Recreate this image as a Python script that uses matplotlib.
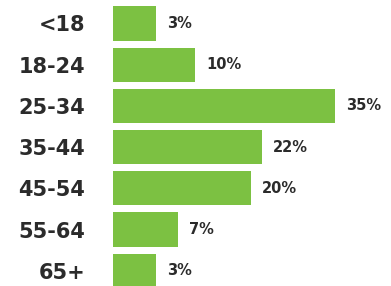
import matplotlib
import matplotlib.pyplot as plt

matplotlib.use("Agg")

# data
age_groups = ["<18", "18-24", "25-34", "35-44", "45-54", "55-64", "65+"]
shares = [3, 10, 35, 22, 20, 7, 3]
share_labels = ["3%", "10%", "35%", "22%", "20%", "7%", "3%"]

BAR_COLOR = "#7cc142"
TEXT_COLOR = "#2b2b2b"
BASE = -4.6  # bars start a bit left of zero, like the original graphic

fig = plt.figure(figsize=(3.91, 2.86), dpi=100)
ax = fig.add_axes([113 / 391, 0, 1 - 113 / 391, 1])

ypos = list(range(len(age_groups)))
widths = [v - BASE for v in shares]
bars = ax.barh(ypos, widths, left=BASE, height=0.83, color=BAR_COLOR)

for bar, lab in zip(bars, share_labels):
    ax.annotate(lab, xy=(bar.get_x() + bar.get_width(), bar.get_y() + bar.get_height() / 2),
                xytext=(8, 0), textcoords="offset points", ha="left", va="center",
                fontsize=10.5, fontweight="bold", color=TEXT_COLOR)

ax.set_xlim(BASE, 45)
ax.set_ylim(6.37, -0.57)
ax.set_yticks(ypos)
ax.set_yticklabels(age_groups, fontsize=15, fontweight="bold", color=TEXT_COLOR)
ax.tick_params(axis="y", length=0, pad=20)
ax.set_xticks([])
for s in ax.spines.values():
    s.set_visible(False)

plt.savefig("out.png", dpi=100)
plt.close()
